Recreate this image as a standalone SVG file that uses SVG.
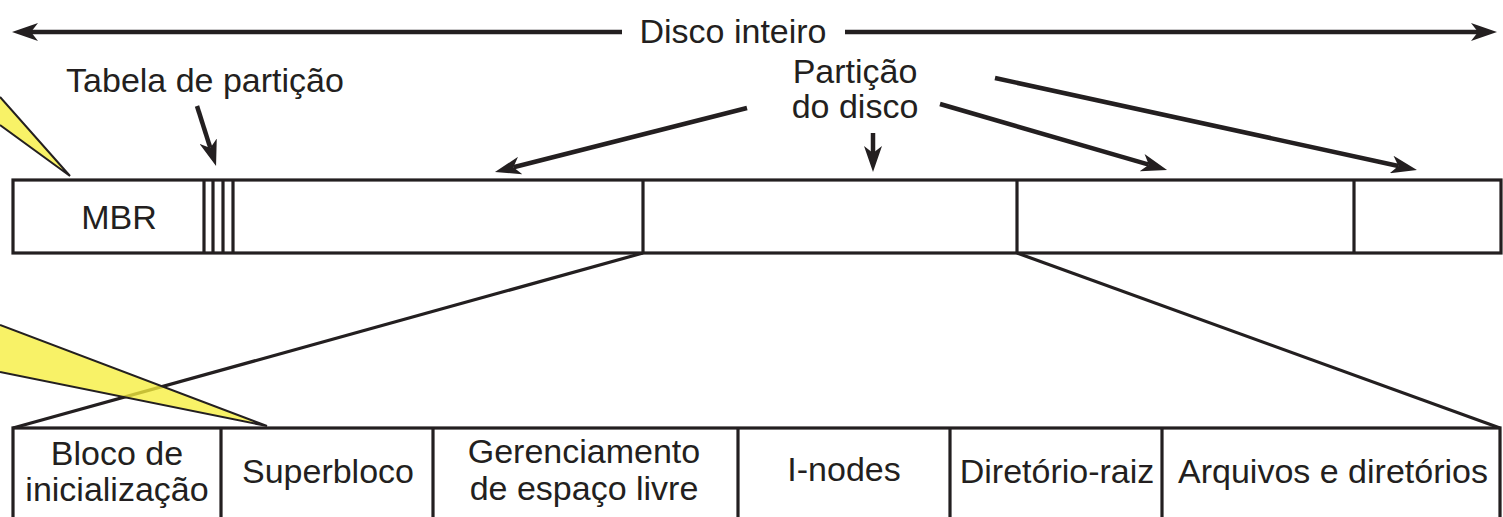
<svg xmlns="http://www.w3.org/2000/svg" width="1503" height="517" viewBox="0 0 1503 517">
<defs>
<marker id="ah" viewBox="0 0 26 18" markerWidth="26" markerHeight="18" refX="7" refY="9" orient="auto" markerUnits="userSpaceOnUse">
<path d="M0,0 L26,9 L0,18 L7,9 z" fill="#231f20"/>
</marker>
<style>
.t{font-family:"Liberation Sans",Arial,sans-serif;font-size:34px;fill:#231f20;text-anchor:middle}
.box{fill:#fff;stroke:#231f20;stroke-width:3.2}
.ln{stroke:#231f20;stroke-width:3.2;fill:none}
.ar{stroke:#231f20;stroke-width:4.5;fill:none;marker-end:url(#ah)}
.call{fill:#f6ee3c;fill-opacity:0.78;stroke:none}
.calle{fill:none;stroke:#231f20;stroke-width:2}
</style>
</defs>
<rect width="1503" height="517" fill="#fff"/>

<g id="connectors">
<line class="ar" x1="622" y1="32" x2="31" y2="32"/>
<line class="ar" x1="845" y1="32" x2="1478" y2="32"/>
<line class="ar" x1="197" y1="106" x2="210.3" y2="147.9"/>
<line class="ar" x1="747" y1="108" x2="513.4" y2="167.3"/>
<line class="ar" x1="873" y1="133" x2="873" y2="153"/>
<line class="ar" x1="940" y1="104" x2="1148.8" y2="164.7"/>
<line class="ar" x1="995" y1="78" x2="1398.4" y2="166"/>
<line class="ln" x1="643" y1="253" x2="13" y2="428"/>
<line class="ln" x1="1017" y1="253" x2="1500" y2="428"/>
</g>

<g id="labels">
<text class="t" x="733" y="43">Disco inteiro</text>
<text class="t" x="205" y="92">Tabela de partição</text>
<text class="t" x="855" y="83">Partição</text>
<text class="t" x="855" y="118">do disco</text>
</g>

<g id="disk">
<rect class="box" x="13" y="180" width="1488" height="73"/>
<text class="t" x="119" y="229">MBR</text>
<line class="ln" x1="204" y1="180" x2="204" y2="253"/>
<line class="ln" x1="213" y1="180" x2="213" y2="253"/>
<line class="ln" x1="223" y1="180" x2="223" y2="253"/>
<line class="ln" x1="233" y1="180" x2="233" y2="253"/>
<line class="ln" x1="643" y1="180" x2="643" y2="253"/>
<line class="ln" x1="1017" y1="180" x2="1017" y2="253"/>
<line class="ln" x1="1354" y1="180" x2="1354" y2="253"/>
</g>

<g id="partition">
<rect class="box" x="13" y="428" width="1487" height="100"/>
<line class="ln" x1="221" y1="428" x2="221" y2="517"/>
<line class="ln" x1="433" y1="428" x2="433" y2="517"/>
<line class="ln" x1="738" y1="428" x2="738" y2="517"/>
<line class="ln" x1="950" y1="428" x2="950" y2="517"/>
<line class="ln" x1="1162" y1="428" x2="1162" y2="517"/>
<text class="t" x="117" y="465">Bloco de</text>
<text class="t" x="117" y="501">inicialização</text>
<text class="t" x="328" y="483">Superbloco</text>
<text class="t" x="584" y="463">Gerenciamento</text>
<text class="t" x="584" y="500">de espaço livre</text>
<text class="t" x="844" y="481">I-nodes</text>
<text class="t" x="1057" y="483">Diretório-raiz</text>
<text class="t" x="1333" y="483">Arquivos e diretórios</text>
</g>

<g id="callout1">
<polygon class="call" points="0,97 70,176 0,125"/>
<polyline class="calle" points="0,97 70,176 0,125"/>
</g>
<g id="callout2">
<polygon class="call" points="0,325 267,426 0,372"/>
<polyline class="calle" points="0,325 267,426 0,372"/>
</g>
</svg>
